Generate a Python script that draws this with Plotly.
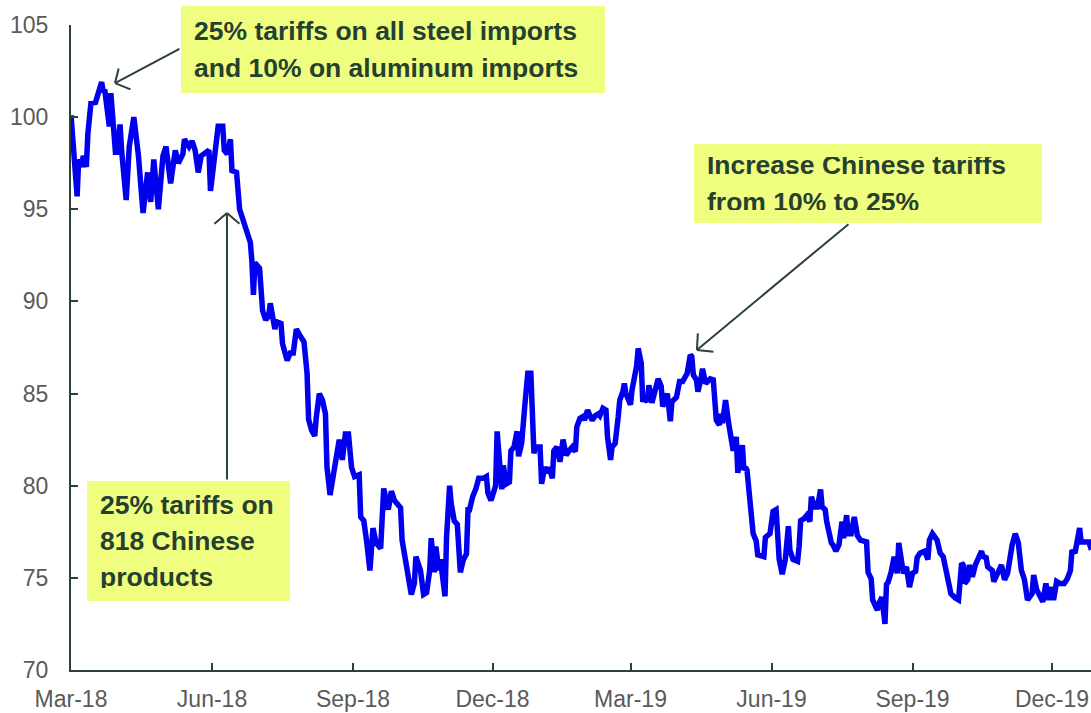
import plotly.graph_objects as go

# ---------------- data ----------------
dates = [
    "2018-03-01","2018-03-05","2018-03-06","2018-03-08","2018-03-09","2018-03-11","2018-03-12","2018-03-14",
    "2018-03-17","2018-03-19","2018-03-21","2018-03-22","2018-03-23","2018-03-26","2018-03-27","2018-03-30",
    "2018-03-31","2018-04-02","2018-04-03","2018-04-06","2018-04-08","2018-04-11","2018-04-14","2018-04-17",
    "2018-04-20","2018-04-22","2018-04-24","2018-04-27","2018-04-30","2018-05-02","2018-05-05","2018-05-08",
    "2018-05-10","2018-05-13","2018-05-14","2018-05-17","2018-05-19","2018-05-21","2018-05-23","2018-05-25",
    "2018-05-27","2018-05-30","2018-05-31","2018-06-02","2018-06-04","2018-06-05","2018-06-08","2018-06-09",
    "2018-06-11","2018-06-13","2018-06-14","2018-06-17","2018-06-19","2018-06-22","2018-06-26","2018-06-27",
    "2018-06-28","2018-06-29","2018-07-02","2018-07-04","2018-07-06","2018-07-08","2018-07-09","2018-07-12",
    "2018-07-13","2018-07-16","2018-07-17","2018-07-20","2018-07-22","2018-07-24","2018-07-26","2018-07-28",
    "2018-07-31","2018-08-02","2018-08-03","2018-08-05","2018-08-07","2018-08-08","2018-08-10","2018-08-12",
    "2018-08-14","2018-08-15","2018-08-17","2018-08-20","2018-08-23","2018-08-25","2018-08-27","2018-08-29",
    "2018-08-31","2018-09-02","2018-09-05","2018-09-06","2018-09-08","2018-09-10","2018-09-12","2018-09-14",
    "2018-09-16","2018-09-19","2018-09-20","2018-09-21","2018-09-24","2018-09-26","2018-09-28","2018-10-02",
    "2018-10-03","2018-10-05","2018-10-07","2018-10-09","2018-10-11","2018-10-12","2018-10-15","2018-10-17",
    "2018-10-19","2018-10-21","2018-10-22","2018-10-24","2018-10-25","2018-10-27","2018-10-28","2018-10-29",
    "2018-10-31","2018-11-01","2018-11-03","2018-11-04","2018-11-06","2018-11-08","2018-11-09","2018-11-10",
    "2018-11-12","2018-11-14","2018-11-15","2018-11-16","2018-11-18","2018-11-20","2018-11-22","2018-11-25",
    "2018-11-27","2018-11-28","2018-11-30","2018-12-03","2018-12-04","2018-12-06","2018-12-07","2018-12-08",
    "2018-12-10","2018-12-12","2018-12-13","2018-12-15","2018-12-17","2018-12-18","2018-12-20","2018-12-22",
    "2018-12-24","2018-12-26","2018-12-28","2018-12-29","2019-01-01","2019-01-02","2019-01-04","2019-01-06",
    "2019-01-07","2019-01-09","2019-01-10","2019-01-12","2019-01-13","2019-01-14","2019-01-16","2019-01-18",
    "2019-01-20","2019-01-22","2019-01-24","2019-01-25","2019-01-27","2019-01-29","2019-01-30","2019-02-01",
    "2019-02-04","2019-02-06","2019-02-08","2019-02-09","2019-02-11","2019-02-13","2019-02-14","2019-02-16",
    "2019-02-17","2019-02-19","2019-02-21","2019-02-22","2019-02-24","2019-02-25","2019-02-26","2019-03-01",
    "2019-03-02","2019-03-05","2019-03-06","2019-03-08","2019-03-09","2019-03-10","2019-03-12","2019-03-13",
    "2019-03-15","2019-03-17","2019-03-19","2019-03-21","2019-03-22","2019-03-25","2019-03-27","2019-03-28",
    "2019-03-31","2019-04-02","2019-04-04","2019-04-07","2019-04-09","2019-04-10","2019-04-11","2019-04-13",
    "2019-04-14","2019-04-16","2019-04-17","2019-04-19","2019-04-22","2019-04-24","2019-04-25","2019-04-26",
    "2019-04-28","2019-04-29","2019-04-30","2019-05-02","2019-05-04","2019-05-06","2019-05-07","2019-05-09",
    "2019-05-10","2019-05-11","2019-05-13","2019-05-14","2019-05-15","2019-05-16","2019-05-18","2019-05-20",
    "2019-05-22","2019-05-23","2019-05-27","2019-05-28","2019-05-31","2019-06-01","2019-06-02","2019-06-04",
    "2019-06-05","2019-06-06","2019-06-08","2019-06-10","2019-06-12","2019-06-13","2019-06-15","2019-06-18",
    "2019-06-19","2019-06-20","2019-06-22","2019-06-24","2019-06-26","2019-06-27","2019-06-29","2019-07-01",
    "2019-07-03","2019-07-04","2019-07-06","2019-07-07","2019-07-10","2019-07-11","2019-07-13","2019-07-15",
    "2019-07-17","2019-07-18","2019-07-20","2019-07-21","2019-07-23","2019-07-25","2019-07-27","2019-07-29",
    "2019-08-02","2019-08-03","2019-08-05","2019-08-06","2019-08-09","2019-08-10","2019-08-12","2019-08-14",
    "2019-08-15","2019-08-16","2019-08-18","2019-08-20","2019-08-22","2019-08-23","2019-08-25","2019-08-26",
    "2019-08-28","2019-08-30","2019-09-01","2019-09-03","2019-09-04","2019-09-06","2019-09-09","2019-09-11",
    "2019-09-12","2019-09-14","2019-09-17","2019-09-19","2019-09-21","2019-09-23","2019-09-25","2019-09-26",
    "2019-09-29","2019-10-01","2019-10-03","2019-10-04","2019-10-05","2019-10-07","2019-10-08","2019-10-10",
    "2019-10-12","2019-10-14","2019-10-16","2019-10-17","2019-10-19","2019-10-20","2019-10-23","2019-10-24",
    "2019-10-27","2019-10-29","2019-10-31","2019-11-02","2019-11-05","2019-11-07","2019-11-09","2019-11-11",
    "2019-11-13","2019-11-15","2019-11-18","2019-11-19","2019-11-21","2019-11-23","2019-11-25","2019-11-27",
    "2019-11-29","2019-12-01","2019-12-02","2019-12-04","2019-12-06","2019-12-09","2019-12-11","2019-12-13",
    "2019-12-14","2019-12-16","2019-12-18","2019-12-19","2019-12-20","2019-12-22","2019-12-25","2019-12-26",
    "2019-12-31",
]

index_values = [
    100.1, 95.7, 97.7, 97.3, 97.9, 97.3, 99.1, 100.75,
    100.8, 101.3, 101.9, 101.4, 101.5, 99.5, 101.3, 98.1,
    98.1, 99.6, 98.2, 95.5, 98.4, 100.0, 97.9, 94.8,
    97.0, 95.4, 97.7, 95.0, 97.9, 98.4, 96.4, 98.2,
    97.5, 98.0, 98.8, 98.4, 98.7, 98.2, 97.0, 97.9,
    98.0, 98.2, 96.0, 97.5, 98.9, 99.5, 99.5, 98.2,
    98.0, 98.8, 97.1, 97.0, 95.0, 94.2, 93.2, 92.2,
    90.35, 92.1, 91.8, 89.5, 89.0, 89.2, 89.9, 88.5,
    88.9, 88.8, 87.7, 86.8, 87.2, 87.2, 88.5, 88.2,
    87.8, 86.1, 83.6, 83.0, 82.7, 83.7, 85.0, 84.65,
    83.9, 81.0, 79.5, 81.0, 82.5, 81.4, 82.8, 82.8,
    81.0, 80.5, 80.6, 78.3, 78.1, 76.9, 75.4, 77.7,
    76.9, 76.6, 78.1, 79.85, 78.7, 79.7, 79.2, 78.8,
    77.05, 76.0, 75.0, 74.1, 74.7, 76.15, 75.4, 74.1,
    74.2, 75.4, 77.15, 75.3, 76.7, 75.4, 76.0, 75.1,
    74.0, 77.2, 80.0, 79.05, 78.1, 77.9, 76.7, 75.3,
    76.0, 76.3, 78.7, 78.7, 79.4, 79.8, 80.4, 80.4,
    80.5, 79.6, 79.2, 80.0, 82.95, 80.3, 79.8, 81.1,
    80.1, 80.2, 81.9, 82.1, 82.95, 81.6, 82.3, 84.3,
    86.1, 86.1, 81.75, 82.1, 82.1, 80.1, 81.0, 80.7,
    81.0, 80.4, 81.9, 82.1, 81.65, 81.3, 82.5, 81.65,
    81.9, 82.1, 81.85, 83.2, 83.65, 83.75, 83.55, 84.1,
    83.55, 83.8, 83.9, 83.8, 84.2, 84.1, 82.65, 81.4,
    82.1, 82.3, 83.75, 84.65, 85.1, 85.55, 85.0, 84.4,
    85.2, 86.5, 87.45, 86.65, 84.55, 84.8, 84.55, 85.45,
    84.5, 85.2, 85.8, 85.4, 84.3, 85.0, 83.5, 84.55,
    84.8, 85.65, 85.65, 86.1, 87.1, 87.0, 86.0, 85.75,
    85.1, 85.8, 86.35, 85.55, 85.8, 85.75, 84.75, 83.55,
    83.3, 83.9, 83.4, 84.65, 83.4, 82.3, 81.9, 82.65,
    80.7, 81.2, 82.2, 80.85, 81.0, 80.85, 78.7, 77.4,
    77.0, 76.25, 76.15, 77.2, 77.4, 78.2, 78.6, 78.7,
    76.9, 76.0, 75.2, 76.0, 77.8, 76.5, 76.0, 75.9,
    76.7, 78.1, 78.2, 78.4, 78.05, 79.4, 78.85, 78.85,
    79.8, 78.85, 78.7, 78.05, 76.9, 76.8, 76.45, 76.8,
    78.05, 77.15, 78.4, 77.4, 77.4, 78.3, 77.3, 77.05,
    76.95, 75.3, 74.95, 73.8, 73.25, 73.6, 73.95, 72.5,
    74.65, 74.75, 75.3, 76.15, 75.25, 76.9, 75.8, 75.25,
    75.6, 74.5, 75.25, 75.35, 76.1, 76.35, 76.45, 76.0,
    77.05, 77.4, 77.05, 76.35, 76.15, 75.25, 74.7, 74.15,
    73.9, 73.8, 75.8, 75.7, 74.7, 74.9, 75.7, 75.05,
    75.7, 76.15, 76.45, 76.15, 76.1, 75.6, 75.4, 74.8,
    75.4, 75.7, 74.9, 75.25, 76.8, 77.4, 76.9, 75.4,
    74.9, 73.8, 74.15, 75.15, 74.35, 73.95, 73.7, 74.7,
    73.8, 74.5, 73.8, 74.8, 74.7, 74.7, 74.95, 75.4,
    76.5, 76.35, 77.4, 77.7, 76.95, 76.95, 76.95, 76.7,
    77.0,
]

annotation_texts = [
    "25% tariffs on all steel imports<br>and 10% on aluminum imports",
    "Increase Chinese tariffs<br>from 10% to 25%",
    "25% tariffs on<br>818 Chinese<br>products",
]

# ---------------- styling ----------------
FONT = "Liberation Sans, Arial, sans-serif"
AXIS_COLOR = "#2B4234"
TICK_COLOR = "#5A5A5A"
TEXT_COLOR = "#26402F"
BOX_COLOR = "#F0FE80"
LINE_COLOR = "#0000EE"

fig = go.Figure()
fig.add_trace(go.Scatter(
    x=dates, y=index_values, mode="lines",
    line=dict(color=LINE_COLOR, width=5.5),
    hoverinfo="skip",
))

W, H = 1091, 713
ML, MR, MT, MB = 71, 0, 25, 43
PW, PH = W - ML - MR, H - MT - MB


def px_x(px):
    return (px - ML) / PW


def px_y(py):
    return (H - MB - py) / PH


def sized(text, size=26.5):
    return "<br>".join(f"<span style='font-size:{size}px'>{t}</span>" for t in text.split("<br>"))


annotations = []
# text boxes: (text, left px, top px, width px, height px)
boxes = [
    (annotation_texts[0], 181, 6, 424, 87),
    (annotation_texts[1], 694, 144, 348, 79),
    (annotation_texts[2], 87, 481, 203, 120),
]
PAD = 13
for txt, lx, ty, bw, bh in boxes:
    annotations.append(dict(
        text="<b>" + sized(txt) + "</b>",
        xref="paper", yref="paper", x=px_x(lx), y=px_y(ty),
        xanchor="left", yanchor="top", showarrow=False,
        width=bw - 2 * PAD, height=bh - 2 * PAD, borderpad=PAD, borderwidth=0,
        align="left", valign="middle", bgcolor=BOX_COLOR,
        font=dict(family=FONT, size=28, color=TEXT_COLOR),
    ))

# arrows: shaft (tail -> head in data coords) plus two chevron arms (pixel offsets)
arrows = [
    (("2018-03-29 17:00", 101.85), ("2018-05-11 18:00", 103.75), [(17, 7), (4, -16)]),
    (("2019-04-13 08:00", 87.37), ("2019-07-22 04:00", 94.26), [(18, 2), (1, -18)]),
    (("2018-06-10 18:00", 94.8), ("2018-06-10 18:00", 80.26), [(-14, 12), (14, 12)]),
]
for (hx, hy), (tx, ty), arms in arrows:
    annotations.append(dict(
        text="", x=hx, y=hy, xref="x", yref="y", ax=tx, ay=ty, axref="x", ayref="y",
        showarrow=True, arrowhead=0, arrowwidth=2, arrowcolor=AXIS_COLOR,
    ))
    for ax, ay in arms:
        annotations.append(dict(
            text="", x=hx, y=hy, xref="x", yref="y", ax=ax, ay=ay,
            showarrow=True, arrowhead=0, arrowwidth=2, arrowcolor=AXIS_COLOR,
        ))

fig.update_layout(
    width=W, height=H,
    margin=dict(l=ML, r=MR, t=MT, b=MB, pad=0),
    plot_bgcolor="white", paper_bgcolor="white",
    showlegend=False,
    annotations=annotations,
    xaxis=dict(
        type="date", range=["2018-03-01", "2019-12-26 10:00"],
        tickmode="linear", tick0="2018-03-01", dtick="M3", tickformat="%b-%y",
        ticks="inside", ticklen=7, tickwidth=2, tickcolor=AXIS_COLOR,
        showline=True, linecolor=AXIS_COLOR, linewidth=2,
        showgrid=False, zeroline=False,
        tickfont=dict(family=FONT, size=23, color=TICK_COLOR),
        ticklabelstandoff=7,
    ),
    yaxis=dict(
        range=[70, 105], tickmode="linear", tick0=70, dtick=5,
        ticks="inside", ticklen=7, tickwidth=2, tickcolor=AXIS_COLOR,
        showline=True, linecolor=AXIS_COLOR, linewidth=2,
        showgrid=False, zeroline=False,
        tickfont=dict(family=FONT, size=23, color=TICK_COLOR),
        ticklabelstandoff=16,
    ),
)

fig.write_html(
    "out.html",
    config={"displayModeBar": False},
    post_script="document.body.style.margin='0px';document.body.style.overflow='hidden';",
)
